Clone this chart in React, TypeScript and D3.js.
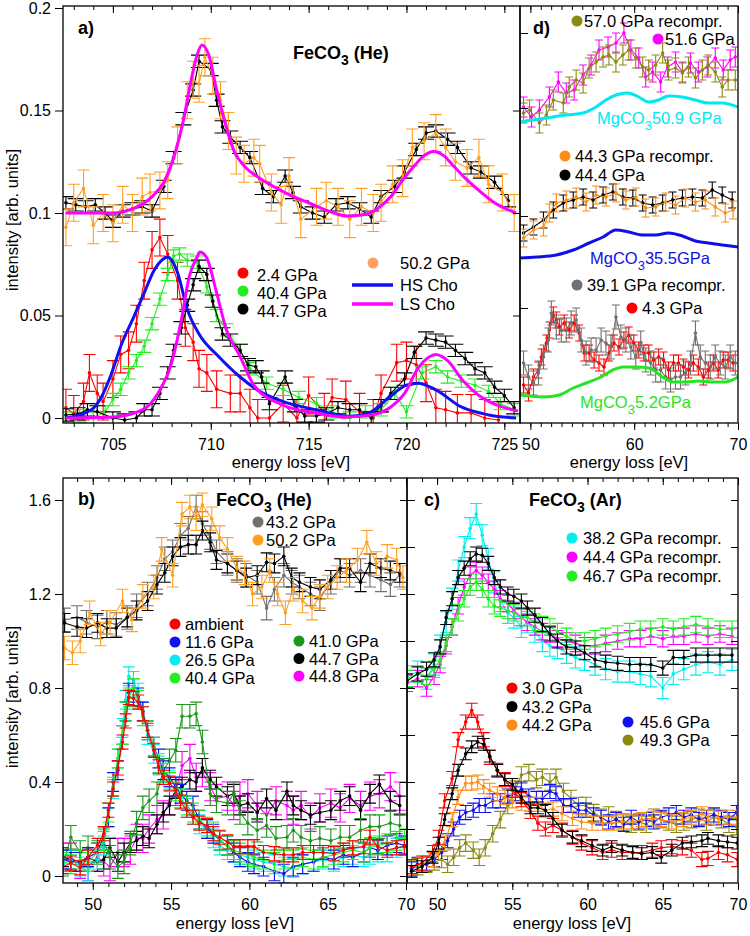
import React, { useEffect, useRef } from 'react'
import * as d3 from 'd3'

type Pt = [number, number]

const FONT = 'Liberation Sans, Arial, Helvetica, sans-serif'

// ---------- a) FeCO3 (He), Fe L edge  [energy loss eV, intensity]
const aBlackTop: Pt[] = [[702.6,0.105],[703.1,0.104],[703.6,0.103],[704.1,0.104],[704.6,0.1],[705.0,0.096],[705.5,0.101],[706.0,0.102],[706.5,0.103],[707.0,0.101],[707.6,0.113],[708.1,0.127],[708.6,0.146],[709.1,0.16],[709.4,0.174],[710.0,0.17],[710.3,0.155],[710.6,0.142],[711.0,0.137],[711.5,0.132],[712.0,0.127],[712.65,0.112],[713.2,0.108],[713.8,0.118],[714.2,0.11],[714.6,0.103],[715.2,0.1],[715.8,0.098],[716.4,0.104],[717.0,0.105],[717.6,0.102],[718.2,0.098],[718.7,0.108],[719.4,0.113],[719.9,0.12],[720.5,0.131],[721.0,0.139],[721.5,0.14],[722.1,0.136],[722.6,0.132],[723.3,0.122],[723.8,0.12],[724.5,0.115],[725.2,0.106]]
const aOrangeTop: Pt[] = [[702.6,0.093],[703.0,0.105],[703.5,0.112],[704.0,0.094],[704.5,0.1],[705.0,0.095],[705.5,0.104],[706.0,0.1],[706.5,0.108],[706.9,0.11],[707.4,0.111],[707.8,0.116],[708.3,0.133],[708.8,0.155],[709.1,0.165],[709.4,0.163],[709.7,0.176],[710.1,0.167],[710.5,0.155],[710.9,0.14],[711.3,0.128],[711.7,0.124],[712.2,0.127],[712.5,0.124],[713.1,0.11],[713.6,0.104],[714.0,0.118],[714.6,0.097],[715.4,0.103],[715.9,0.106],[716.5,0.103],[717.1,0.097],[717.7,0.103],[718.3,0.1],[718.7,0.105],[719.3,0.114],[719.8,0.117],[720.3,0.132],[720.9,0.135],[721.5,0.139],[722.0,0.132],[722.5,0.125],[723.1,0.122],[723.7,0.127],[724.2,0.114],[724.9,0.11],[725.5,0.1]]
const aLsTop: Pt[] = [[702.6,0.1],[704,0.1],[705,0.1],[706,0.102],[707,0.108],[707.6,0.115],[708.2,0.13],[708.6,0.145],[709,0.165],[709.3,0.177],[709.55,0.182],[709.9,0.177],[710.3,0.16],[710.7,0.145],[711.2,0.13],[711.7,0.123],[712.5,0.117],[713,0.114],[714,0.109],[715,0.105],[716,0.101],[717,0.0985],[717.7,0.099],[718.5,0.102],[719.2,0.108],[719.8,0.116],[720.4,0.123],[720.9,0.128],[721.4,0.13],[721.9,0.128],[722.4,0.123],[723,0.117],[723.7,0.111],[724.5,0.105],[725.6,0.1]]
const aRed: Pt[] = [[702.6,0.005],[703.0,0.002],[703.5,0.008],[703.8,0.022],[704.2,0.012],[704.5,0.008],[705.0,0.019],[705.4,0.031],[705.8,0.033],[706.2,0.046],[706.6,0.067],[707.0,0.082],[707.4,0.088],[707.8,0.08],[708.3,0.067],[708.7,0.044],[709.1,0.037],[709.4,0.024],[709.8,0.022],[710.3,0.014],[711.0,0.012],[711.5,0.012],[712.0,0.005],[712.4,0.0],[713.0,0.0],[713.7,0.007],[714.4,0.0],[715.0,0.011],[715.8,0.003],[716.2,0.01],[716.9,0.009],[717.6,0.003],[718.3,0.0],[718.7,0.012],[719.5,0.027],[720.0,0.028],[720.5,0.026],[721.0,0.017],[721.5,0.005],[722.0,0.004],[722.6,0.0025],[723.3,0.0025],[724.0,0.0],[724.7,-0.001]]
const aGreen: Pt[] = [[702.6,0.0],[703.3,0.001],[704.0,0.0],[704.6,0.003],[705.0,0.009],[705.4,0.014],[705.8,0.022],[706.2,0.028],[706.6,0.035],[707.0,0.046],[707.4,0.058],[707.8,0.07],[708.1,0.079],[708.4,0.08],[708.8,0.077],[709.3,0.076],[709.8,0.064],[710.3,0.05],[710.8,0.043],[711.5,0.033],[712.0,0.024],[712.85,0.017],[713.7,0.014],[714.5,0.01],[715.4,0.007],[716.2,0.003],[717.1,0.0],[717.9,0.003],[718.7,0.004],[719.4,0.012],[720.0,0.003],[720.8,0.022],[721.5,0.025],[722.1,0.02],[722.8,0.018],[723.5,0.016],[724.2,0.013],[724.8,0.007],[725.5,0.004]]
const aBlack: Pt[] = [[702.6,0.0015],[703.2,0.002],[703.7,0.004],[704.2,0.003],[705.0,0.0],[705.6,-0.001],[706.2,0.0],[706.6,0.004],[707.0,0.004],[707.4,0.012],[707.8,0.022],[708.1,0.033],[708.5,0.044],[708.8,0.055],[709.1,0.065],[709.4,0.074],[709.8,0.07],[710.1,0.057],[710.6,0.041],[711.0,0.038],[711.5,0.033],[711.9,0.026],[712.3,0.025],[712.6,0.02],[713.0,0.007],[713.8,0.02],[714.3,0.006],[714.8,0.001],[715.4,0.001],[715.9,0.002],[716.5,0.005],[717.1,0.004],[717.6,0.004],[718.2,0.0],[718.7,0.006],[719.2,0.012],[719.9,0.019],[720.4,0.032],[721.0,0.039],[721.5,0.038],[722.0,0.037],[722.5,0.033],[723.0,0.029],[723.5,0.024],[724.0,0.022],[724.5,0.015],[725.0,0.011],[725.5,0.005]]
const aHsCho: Pt[] = [[702.6,0.0],[703.9,0.004],[704.4,0.01],[704.9,0.021],[705.4,0.035],[706.05,0.049],[706.6,0.061],[707.1,0.072],[707.5,0.077],[707.8,0.0785],[708.3,0.071],[708.8,0.053],[709.4,0.041],[710.4,0.03],[711.5,0.02],[712.5,0.013],[713.7,0.008],[715.4,0.004],[717.1,0.0008],[718.1,0.0025],[719.1,0.01],[720,0.016],[720.6,0.017],[721.5,0.0137],[722.8,0.0054],[724.2,0.0015],[725.6,0.0]]
const aLsCho: Pt[] = [[702.6,0.0],[705,0.0005],[706.5,0.004],[707.3,0.012],[708,0.027],[708.5,0.048],[708.9,0.069],[709.3,0.0785],[709.45,0.081],[709.8,0.078],[710.3,0.061],[710.8,0.043],[711.5,0.03],[712.2,0.016],[713.7,0.0063],[715.4,0.0024],[716.9,0.0005],[718.2,0.0015],[719.2,0.0054],[719.9,0.012],[720.6,0.0244],[721.2,0.03],[721.5,0.031],[722.1,0.028],[722.9,0.018],[723.7,0.011],[724.7,0.006],[725.7,0.0034]]

// ---------- d) C K edge, stacked [energy loss eV, intensity]
const dOlive: Pt[] = [[49.34,3.1],[49.92,3.13],[50.87,3.0],[51.54,3.08],[52.21,3.23],[53.17,3.2],[53.74,3.36],[54.41,3.43],[55.08,3.4],[55.66,3.55],[56.33,3.61],[57.0,3.66],[57.57,3.68],[58.24,3.61],[58.91,3.68],[59.48,3.73],[60.15,3.65],[60.82,3.56],[61.4,3.53],[62.07,3.58],[62.74,3.7],[63.31,3.53],[63.98,3.55],[64.65,3.5],[65.23,3.56],[65.9,3.45],[66.57,3.53],[67.14,3.58],[67.81,3.51],[68.48,3.36],[69.05,3.43],[69.74,3.43]]
const dMagenta: Pt[] = [[49.34,3.16],[50.11,3.06],[50.87,3.13],[51.83,3.26],[52.69,3.41],[53.46,3.3],[54.22,3.33],[55.08,3.48],[55.85,3.58],[56.61,3.73],[57.48,3.76],[58.24,3.8],[59.01,3.9],[59.68,3.73],[60.44,3.65],[61.11,3.46],[61.78,3.51],[62.55,3.41],[63.22,3.56],[63.98,3.61],[64.65,3.51],[65.42,3.6],[66.18,3.51],[67.04,3.56],[67.81,3.65],[68.58,3.53],[69.25,3.63],[69.74,3.66]]
const dMg509: Pt[] = [[49.0,3.01],[51.54,3.05],[53.46,3.08],[55.08,3.1],[56.33,3.16],[57.28,3.23],[58.24,3.28],[59.39,3.3],[60.44,3.26],[61.4,3.21],[62.36,3.23],[63.31,3.27],[64.65,3.26],[65.9,3.23],[67.14,3.2],[68.48,3.2],[70,3.16]]
const dOrange: Pt[] = [[49.34,1.85],[50.3,1.93],[51.26,1.96],[51.83,2.1],[52.5,2.2],[53.46,2.23],[54.41,2.26],[55.37,2.21],[56.33,2.28],[57.28,2.26],[58.24,2.3],[59.2,2.23],[60.15,2.26],[61.11,2.15],[62.07,2.16],[63.03,2.21],[63.98,2.18],[64.94,2.25],[65.9,2.21],[66.85,2.23],[67.81,2.16],[68.77,2.1],[69.53,2.13]]
const dBlack: Pt[] = [[49.34,1.9],[50.3,1.96],[51.26,2.03],[52.21,2.13],[53.17,2.2],[54.13,2.23],[55.08,2.26],[56.04,2.23],[57.0,2.28],[57.95,2.31],[58.91,2.26],[59.87,2.25],[60.82,2.2],[61.78,2.18],[62.74,2.2],[63.7,2.23],[64.65,2.25],[65.61,2.26],[66.57,2.25],[67.52,2.33],[68.48,2.28],[69.44,2.23]]
const dMg355: Pt[] = [[49.0,1.65],[50.59,1.66],[52.5,1.68],[54.13,1.73],[55.66,1.8],[57.0,1.86],[58.24,1.93],[59.48,1.91],[60.82,1.88],[62.07,1.88],[63.31,1.9],[64.65,1.87],[65.9,1.82],[67.14,1.8],[68.48,1.78],[70,1.76]]
const dRed: Pt[] = [[49.34,0.38],[49.82,0.3],[50.3,0.46],[50.78,0.53],[51.06,0.66],[51.54,0.8],[51.83,0.93],[52.21,1.08],[52.5,1.03],[52.79,0.96],[53.26,1.0],[53.74,0.93],[54.22,1.0],[54.7,0.9],[55.18,0.7],[55.66,0.7],[56.14,0.63],[56.61,0.6],[57.09,0.56],[57.57,0.7],[58.05,0.8],[58.53,0.76],[59.01,0.83],[59.48,0.88],[59.96,0.8],[60.44,0.73],[60.92,0.7],[61.4,0.7],[61.88,0.63],[62.36,0.66],[62.83,0.63],[63.31,0.53],[63.79,0.6],[64.27,0.6],[64.75,0.56],[65.23,0.53],[65.7,0.6],[66.18,0.56],[66.66,0.46],[67.14,0.53],[67.62,0.6],[68.1,0.53],[68.58,0.63],[69.05,0.63],[69.53,0.6]]
const dGray: Pt[] = [[49.34,0.6],[49.82,0.46],[50.3,0.4],[50.78,0.5],[51.26,0.66],[51.73,0.83],[52.02,1.1],[52.5,0.96],[52.98,0.93],[53.46,0.93],[53.93,1.0],[54.41,1.03],[54.89,0.83],[55.37,0.7],[55.85,0.73],[56.33,0.73],[56.81,0.83],[57.28,0.8],[57.76,0.76],[58.24,1.06],[58.72,0.86],[59.2,0.83],[59.68,0.76],[60.15,0.66],[60.63,0.8],[61.11,0.63],[61.59,0.6],[62.07,0.53],[62.55,0.53],[63.03,0.46],[63.5,0.43],[63.98,0.46],[64.46,0.46],[64.94,0.5],[65.42,0.6],[65.9,0.9],[66.37,0.66],[66.85,0.6],[67.33,0.56],[67.81,0.66],[68.29,0.6],[68.77,0.56],[69.25,0.66],[69.74,0.6]]
const dMg52: Pt[] = [[49.0,0.28],[51.26,0.26],[52.79,0.28],[54.13,0.35],[55.37,0.4],[56.61,0.45],[57.95,0.53],[58.91,0.56],[60.15,0.56],[61.4,0.55],[62.74,0.46],[63.7,0.41],[64.94,0.41],[66.18,0.42],[67.52,0.41],[68.77,0.41],[70,0.46]]

// ---------- b) FeCO3 (He), C K edge
const bGridA = [48.1,48.6,49.2,49.7,50.3,50.7,51.0,51.3,51.6,51.9,52.1,52.3,52.6,52.9,53.2,53.5,53.9,54.2,54.5,54.9,55.3,55.6,56.0,56.4,56.8,57.3,57.7,58.1,58.6,59.0,59.4,59.9,60.3,60.9,61.6,62.2,62.8,63.4,64.1,64.7,65.4,66.0,66.6,67.3,67.7,68.2,68.8,69.4,69.9]
const bAmbient = [0.04,0.055,0.035,0.08,0.13,0.18,0.28,0.37,0.46,0.57,0.66,0.76,0.755,0.74,0.69,0.62,0.535,0.465,0.42,0.395,0.365,0.315,0.28,0.25,0.225,0.215,0.18,0.165,0.145,0.125,0.125,0.125,0.125,0.1,0.095,0.09,0.09,0.1,0.1,0.1,0.095,0.11,0.12,0.125,0.165,0.125,0.11,0.12,0.125]
const b116 = [0.07,0.06,0.06,0.08,0.1,0.17,0.25,0.4,0.45,0.6,0.7,0.78,0.8,0.76,0.7,0.62,0.55,0.5,0.45,0.42,0.38,0.35,0.32,0.3,0.24,0.2,0.18,0.15,0.13,0.1,0.08,0.06,0.05,0.04,0.02,0.01,0.04,0.05,0.06,0.08,0.07,0.09,0.08,0.1,0.12,0.11,0.13,0.14,0.13]
const b265 = [0.05,0.07,0.04,0.02,0.07,0.13,0.25,0.37,0.5,0.63,0.75,0.85,0.83,0.78,0.7,0.6,0.52,0.47,0.44,0.41,0.38,0.33,0.29,0.26,0.22,0.2,0.16,0.13,0.11,0.1,0.09,0.08,0.07,0.06,0.05,0.04,0.035,0.05,0.06,0.07,0.06,0.08,0.09,0.08,0.09,0.1,0.1,0.12,0.13]
const b404 = [0.06,0.05,0.07,0.06,0.1,0.15,0.27,0.38,0.5,0.6,0.7,0.76,0.8,0.75,0.68,0.62,0.55,0.48,0.44,0.4,0.36,0.33,0.3,0.27,0.24,0.21,0.19,0.15,0.13,0.11,0.1,0.09,0.08,0.07,0.06,0.07,0.07,0.08,0.07,0.08,0.09,0.1,0.11,0.1,0.12,0.13,0.14,0.15,0.16]
const bGridB = [48.1,48.6,49.2,49.7,50.3,50.7,51.1,51.6,52.0,52.4,52.8,53.2,53.6,54.1,54.5,54.9,55.3,55.7,56.2,56.6,57.0,57.5,57.9,58.6,59.0,59.4,59.9,60.5,61.1,61.7,62.4,62.8,63.3,63.9,64.5,65.2,65.8,66.4,67.1,67.7,68.3,69.0,69.6]
const b410 = [0.05,0.165,0.1,0.12,0.1,0.15,0.08,0.04,0.06,0.14,0.225,0.29,0.32,0.35,0.45,0.49,0.535,0.68,0.68,0.69,0.57,0.35,0.32,0.31,0.35,0.27,0.225,0.195,0.215,0.16,0.165,0.195,0.165,0.15,0.16,0.15,0.165,0.165,0.195,0.21,0.21,0.225,0.215]
const b447 = [0.08,0.07,0.06,0.08,0.06,0.07,0.12,0.06,0.1,0.14,0.15,0.17,0.16,0.22,0.27,0.3,0.37,0.38,0.41,0.4,0.46,0.41,0.38,0.34,0.35,0.3,0.31,0.27,0.33,0.28,0.36,0.3,0.28,0.26,0.27,0.28,0.32,0.34,0.28,0.35,0.39,0.32,0.3]
const b448 = [0.08,0.08,0.05,0.04,0.08,0.06,0.04,0.1,0.1,0.11,0.16,0.16,0.2,0.24,0.26,0.32,0.36,0.47,0.5,0.42,0.44,0.38,0.33,0.34,0.3,0.34,0.35,0.3,0.26,0.32,0.3,0.28,0.3,0.25,0.29,0.31,0.29,0.33,0.3,0.34,0.35,0.38,0.34]
const bGridC = [48.2,49.0,49.6,50.3,50.9,51.5,52.2,52.8,53.5,54.1,54.6,55.1,55.6,56.1,56.6,57.0,57.5,57.9,58.6,59.2,59.8,60.5,61.1,61.6,62.2,62.7,63.2,63.9,64.5,65.2,65.8,66.4,67.1,67.7,68.4,69.0,69.6]
const b447Top = [1.077,1.06,1.055,1.077,1.055,1.055,1.1,1.13,1.17,1.24,1.29,1.36,1.4,1.41,1.41,1.47,1.42,1.345,1.33,1.3,1.27,1.28,1.335,1.33,1.36,1.27,1.25,1.23,1.22,1.26,1.31,1.31,1.25,1.33,1.31,1.3,1.29]
const b432 = [1.09,1.1,1.08,1.06,1.08,1.07,1.1,1.15,1.2,1.27,1.35,1.38,1.45,1.48,1.57,1.5,1.44,1.38,1.33,1.3,1.28,1.25,1.14,1.22,1.28,1.25,1.23,1.2,1.18,1.25,1.3,1.28,1.3,1.28,1.26,1.24,1.28]
const bGridD = [48.2,48.7,49.2,49.8,50.5,51.1,51.9,52.5,53.2,53.9,54.4,55.1,55.7,56.2,56.6,57.0,57.6,58.1,58.6,59.2,59.7,60.2,60.8,61.3,61.8,62.3,62.8,63.4,64.0,64.5,65.0,65.6,66.2,66.9,67.5,68.1,68.8,69.4,69.8]
const b502 = [0.97,0.95,1.0,1.12,1.03,1.08,1.17,1.09,1.19,1.23,1.39,1.28,1.54,1.57,1.52,1.58,1.52,1.44,1.39,1.31,1.29,1.2,1.23,1.3,1.2,1.12,1.22,1.17,1.14,1.19,1.23,1.27,1.3,1.345,1.42,1.33,1.36,1.345,1.27]

// ---------- c) FeCO3 (Ar), C K edge
const cGridA = [48.0,48.7,49.3,49.8,50.2,50.6,51.0,51.4,51.8,52.2,52.6,53.0,53.4,53.8,54.2,54.7,55.1,55.6,56.0,56.5,57.0,57.5,58.0,58.6,59.2,59.8,60.5,61.2,62.0,62.8,63.5,64.2,65.0,65.7,66.4,67.2,68.0,68.8,69.6]
const c382r = [0.85,0.87,0.84,0.9,0.98,1.08,1.18,1.3,1.4,1.48,1.54,1.45,1.35,1.25,1.17,1.12,1.1,1.06,1.08,1.04,1.0,0.98,0.97,0.95,0.93,0.92,0.9,0.88,0.87,0.87,0.86,0.85,0.8,0.86,0.88,0.9,0.91,0.9,0.92]
const c444r = [0.82,0.84,0.8,0.85,0.9,0.98,1.06,1.15,1.23,1.28,1.3,1.28,1.25,1.22,1.18,1.16,1.13,1.1,1.08,1.06,1.04,1.03,1.01,1.0,0.99,0.98,0.98,0.99,1.0,1.01,1.01,1.02,1.01,1.02,1.02,1.03,1.02,1.03,1.02]
const c467r = [0.84,0.86,0.85,0.88,0.92,0.99,1.06,1.12,1.18,1.23,1.25,1.22,1.18,1.15,1.14,1.13,1.12,1.1,1.1,1.08,1.07,1.06,1.04,1.02,1.0,1.0,1.01,1.02,1.03,1.04,1.05,1.05,1.06,1.05,1.06,1.07,1.06,1.05,1.05]
const cBlackTop = [0.83,0.86,0.88,0.92,0.975,1.1,1.18,1.27,1.31,1.35,1.37,1.365,1.33,1.27,1.23,1.2,1.19,1.17,1.14,1.11,1.07,1.03,1.0,0.975,0.97,0.95,0.92,0.91,0.905,0.9,0.9,0.9,0.885,0.93,0.93,0.94,0.94,0.94,0.94]
const cGridB = [48.3,49.0,49.7,50.1,50.5,51.0,51.4,51.9,52.3,52.7,53.1,53.5,54.0,54.5,55.0,55.6,56.2,56.7,57.2,57.7,58.3,59.0,59.6,60.3,61.0,61.6,62.3,63.0,63.6,64.3,64.9,65.6,66.3,66.9,67.6,68.0,68.7,69.3,69.95]
const c30 = [0.04,0.055,0.1,0.165,0.32,0.415,0.58,0.655,0.705,0.655,0.58,0.505,0.45,0.41,0.365,0.325,0.275,0.225,0.2,0.215,0.195,0.165,0.14,0.12,0.1,0.11,0.1,0.1,0.1,0.11,0.12,0.125,0.12,0.11,0.07,0.075,0.1,0.09,0.07]
const c432 = [0.02,0.04,0.08,0.14,0.24,0.35,0.45,0.52,0.55,0.57,0.56,0.51,0.45,0.41,0.39,0.335,0.29,0.29,0.28,0.245,0.195,0.165,0.15,0.13,0.11,0.125,0.11,0.1,0.095,0.1,0.08,0.11,0.14,0.145,0.15,0.16,0.15,0.145,0.14]
const c442 = [0.04,0.05,0.07,0.1,0.14,0.24,0.335,0.395,0.395,0.4,0.38,0.365,0.35,0.335,0.32,0.31,0.305,0.305,0.28,0.285,0.265,0.245,0.23,0.225,0.225,0.225,0.23,0.23,0.24,0.245,0.24,0.23,0.24,0.25,0.265,0.25,0.245,0.25,0.25]
const cGridC = [48.3,48.7,49.3,49.8,50.3,50.7,51.1,51.5,51.9,52.4,52.8,53.2,53.7,54.2,54.7,55.2,55.6,56.1,56.6,57.0,57.5,57.9,58.4,58.9,59.4,59.9,60.4,60.9,61.4,61.9,62.4,62.9,63.4,63.9,64.4,64.9,65.4,65.9,66.4,66.9,67.4,67.9,68.4,68.9,69.4,69.9]
const c456 = [0.03,0.05,0.05,0.07,0.1,0.15,0.2,0.25,0.27,0.28,0.3,0.3,0.32,0.32,0.34,0.35,0.37,0.34,0.33,0.33,0.36,0.35,0.3,0.3,0.28,0.28,0.26,0.25,0.23,0.24,0.22,0.25,0.23,0.24,0.23,0.25,0.26,0.27,0.25,0.26,0.24,0.25,0.26,0.25,0.24,0.27]
const c493 = [0.03,0.04,0.05,0.06,0.07,0.05,0.08,0.12,0.14,0.11,0.08,0.12,0.18,0.24,0.3,0.37,0.43,0.44,0.41,0.42,0.4,0.42,0.36,0.33,0.3,0.3,0.27,0.25,0.26,0.24,0.23,0.22,0.23,0.22,0.25,0.24,0.23,0.22,0.23,0.24,0.25,0.23,0.25,0.24,0.22,0.21]

const zip = (xs: number[], ys: number[]): Pt[] => xs.map((x, i) => [x, ys[i]] as Pt)

const RED = '#ff0000', LIME = '#22ee22', ORANGE = '#ffa020', ORANGE2 = '#ff8c14', MAG = '#ff00ff'
const BLUE = '#1010f0', CYAN = '#00eeee', GRAY = '#707070', OLIVE = '#8a8a12', DKGREEN = '#1e961e'

interface Frame { x0: number; x1: number; y0: number; y1: number }

export default function App() {
  const ref = useRef<SVGSVGElement>(null)

  useEffect(() => {
    document.body.style.margin = '0'
    const svg = d3.select(ref.current)
    svg.selectAll('*').remove()
    svg.append('rect').attr('width', 750).attr('height', 936).attr('fill', '#fff')

    const fA: Frame = { x0: 63, x1: 520, y0: 6, y1: 423 }
    const fD: Frame = { x0: 520, x1: 738, y0: 6, y1: 423 }
    const fB: Frame = { x0: 63, x1: 407, y0: 478, y1: 883 }
    const fC: Frame = { x0: 407, x1: 738, y0: 478, y1: 883 }

    const xA = d3.scaleLinear().domain([702.45, 725.8]).range([fA.x0, fA.x1])
    const yA = d3.scaleLinear().domain([0, 0.2]).range([418, 8])
    const xD = d3.scaleLinear().domain([49.0, 70]).range([fD.x0, fD.x1])
    const yD = d3.scaleLinear().domain([0, 4.17]).range([423, 6])
    const xB = d3.scaleLinear().domain([48.1, 70]).range([63, 406])
    const xC = d3.scaleLinear().domain([48, 70]).range([fC.x0, fC.x1])
    const yB = d3.scaleLinear().domain([0, 1.6]).range([876, 500])

    const clip = (id: string, f: Frame) => {
      svg.append('clipPath').attr('id', id).append('rect')
        .attr('x', f.x0).attr('y', f.y0).attr('width', f.x1 - f.x0).attr('height', f.y1 - f.y0)
      return svg.append('g').attr('clip-path', `url(#${id})`)
    }

    const trace = (g: any, x: any, y: any, pts: Pt[], color: string, err: number, cap: number) => {
      const s = g.append('g').attr('stroke', color).attr('fill', 'none').attr('stroke-width', 1.1)
      s.selectAll(null).data(pts).join('path')
        .attr('d', (d: Pt) => {
          const px = x(d[0]), hi = y(d[1] + err), lo = y(d[1] - err)
          return `M${px},${hi}V${lo}M${px - cap},${hi}h${2 * cap}M${px - cap},${lo}h${2 * cap}`
        })
      s.append('path').attr('d', d3.line<Pt>().x(d => x(d[0])).y(d => y(d[1]))(pts))
      g.append('g').attr('fill', color).selectAll(null).data(pts).join('circle')
        .attr('cx', (d: Pt) => x(d[0])).attr('cy', (d: Pt) => y(d[1])).attr('r', 1.8)
    }
    const smooth = (g: any, x: any, y: any, pts: Pt[], color: string, w: number) => {
      g.append('path').attr('fill', 'none').attr('stroke', color).attr('stroke-width', w)
        .attr('stroke-linejoin', 'round')
        .attr('d', d3.line<Pt>().x(d => x(d[0])).y(d => y(d[1])).curve(d3.curveMonotoneX)(pts))
    }

    // ---- data layers
    const gA = clip('clipA', fA)
    trace(gA, xA, yA, aBlackTop, '#000', 0.003, 8)
    trace(gA, xA, yA, aOrangeTop, ORANGE, 0.009, 6)
    smooth(gA, xA, yA, aLsTop, MAG, 3)
    trace(gA, xA, yA, aRed, RED, 0.009, 6)
    trace(gA, xA, yA, aGreen, LIME, 0.003, 7)
    trace(gA, xA, yA, aBlack, '#000', 0.003, 8)
    smooth(gA, xA, yA, aHsCho, BLUE, 3)
    smooth(gA, xA, yA, aLsCho, MAG, 3)

    const gD = clip('clipD', fD)
    trace(gD, xD, yD, dMagenta, MAG, 0.1, 4)
    trace(gD, xD, yD, dOlive, OLIVE, 0.1, 4)
    smooth(gD, xD, yD, dMg509, '#00e8f0', 3)
    trace(gD, xD, yD, dBlack, '#000', 0.08, 4)
    trace(gD, xD, yD, dOrange, ORANGE2, 0.09, 4)
    smooth(gD, xD, yD, dMg355, '#1010e6', 3)
    trace(gD, xD, yD, dRed, RED, 0.08, 4)
    trace(gD, xD, yD, dGray, GRAY, 0.12, 4)
    smooth(gD, xD, yD, dMg52, '#22e622', 3)

    const gB = clip('clipB', fB)
    trace(gB, xB, yB, zip(bGridC, b432), GRAY, 0.05, 6)
    trace(gB, xB, yB, zip(bGridC, b447Top), '#000', 0.04, 6)
    trace(gB, xB, yB, zip(bGridD, b502), ORANGE, 0.05, 6)
    trace(gB, xB, yB, zip(bGridB, b448), MAG, 0.06, 6)
    trace(gB, xB, yB, zip(bGridB, b447), '#000', 0.04, 6)
    trace(gB, xB, yB, zip(bGridB, b410), DKGREEN, 0.05, 6)
    trace(gB, xB, yB, zip(bGridA, b265), CYAN, 0.04, 6)
    trace(gB, xB, yB, zip(bGridA, b116), BLUE, 0.04, 6)
    trace(gB, xB, yB, zip(bGridA, b404), LIME, 0.04, 6)
    trace(gB, xB, yB, zip(bGridA, bAmbient), RED, 0.03, 6)

    const gC = clip('clipC', fC)
    trace(gC, xC, yB, zip(cGridA, c382r), CYAN, 0.045, 6)
    trace(gC, xC, yB, zip(cGridA, c444r), MAG, 0.035, 6)
    trace(gC, xC, yB, zip(cGridA, c467r), LIME, 0.035, 6)
    trace(gC, xC, yB, zip(cGridA, cBlackTop), '#000', 0.03, 6)
    trace(gC, xC, yB, zip(cGridC, c493), OLIVE, 0.035, 6)
    trace(gC, xC, yB, zip(cGridC, c456), BLUE, 0.03, 6)
    trace(gC, xC, yB, zip(cGridB, c442), ORANGE2, 0.03, 6)
    trace(gC, xC, yB, zip(cGridB, c30), RED, 0.03, 6)
    trace(gC, xC, yB, zip(cGridB, c432), '#000', 0.025, 6)

    // ---- axes and frames
    const axes = svg.append('g')
    const put = (f: Frame, pos: 'b' | 't' | 'l' | 'r', axis: any) => {
      const tr = pos === 'b' ? `translate(0,${f.y1})` : pos === 't' ? `translate(0,${f.y0})`
        : pos === 'l' ? `translate(${f.x0},0)` : `translate(${f.x1},0)`
      axes.append('g').attr('transform', tr).call(axis)
    }
    const none = () => ''
    const xAxes = (f: Frame, x: any, major: number[], minor: number[]) => {
      put(f, 'b', d3.axisBottom(x).tickValues(minor).tickSize(4).tickFormat(none))
      put(f, 'b', d3.axisBottom(x).tickValues(major).tickSize(7).tickPadding(9).tickFormat(d3.format('d')))
      put(f, 't', d3.axisTop(x).tickValues(minor).tickSize(-4).tickFormat(none))
      put(f, 't', d3.axisTop(x).tickValues(major).tickSize(-7).tickFormat(none))
    }
    xAxes(fA, xA, [705, 710, 715, 720, 725], d3.range(703, 726))
    xAxes(fD, xD, [50, 60, 70], d3.range(50, 71))
    xAxes(fB, xB, [50, 55, 60, 65, 70], d3.range(49, 71))
    xAxes(fC, xC, [50, 55, 60, 65, 70], d3.range(49, 71))

    put(fA, 'l', d3.axisLeft(yA).tickValues([0, 0.05, 0.1, 0.15, 0.2]).tickSize(8).tickPadding(4).tickFormat(d3.format('~g')))
    put(fA, 'r', d3.axisRight(yA).tickValues([0.05, 0.1, 0.15]).tickSize(-7).tickFormat(none))
    put(fD, 'l', d3.axisLeft(yD).tickValues([1.15, 2.07, 3.15, 3.9]).tickSize(-8).tickFormat(none))
    put(fB, 'l', d3.axisLeft(yB).tickValues([0, 0.4, 0.8, 1.2, 1.6]).tickSize(8).tickPadding(4).tickFormat(d3.format('~g')))
    put(fB, 'r', d3.axisRight(yB).tickValues(d3.range(0, 1.7, 0.2)).tickSize(-7).tickFormat(none))
    put(fC, 'l', d3.axisLeft(yB).tickValues(d3.range(0.2, 1.7, 0.2)).tickSize(-8).tickFormat(none))
    put(fC, 'r', d3.axisRight(yB).tickValues(d3.range(0.2, 1.7, 0.2)).tickSize(-7).tickFormat(none))

    axes.selectAll('.domain').remove()
    axes.selectAll('.tick line').attr('stroke', '#000').attr('stroke-width', 1)
    axes.selectAll('g').attr('font-size', null).attr('font-family', null)
    axes.selectAll('text').attr('font-size', 16).attr('font-family', FONT).attr('fill', '#000')

    ;[fA, fD, fB, fC].forEach(f => {
      svg.append('rect').attr('x', f.x0).attr('y', f.y0).attr('width', f.x1 - f.x0).attr('height', f.y1 - f.y0)
        .attr('fill', 'none').attr('stroke', '#000').attr('stroke-width', 1.3)
    })

    // ---- text
    const txt = svg.append('g').attr('font-family', FONT).attr('font-size', 16.5).attr('fill', '#000')
    const label = (x: number, y: number, s: string, opts: any = {}) =>
      txt.append('text').attr('x', x).attr('y', y).attr('fill', opts.color || '#000')
        .attr('font-weight', opts.bold ? 'bold' : null).attr('font-size', opts.size || null)
        .attr('text-anchor', opts.anchor || null).text(s)
    const chem = (x: number, y: number, pre: string, post: string, color: string, bold: boolean) => {
      const t = txt.append('text').attr('x', x).attr('y', y).attr('fill', color)
        .attr('font-weight', bold ? 'bold' : null).attr('font-size', bold ? 18 : 16.5)
      t.append('tspan').text(pre)
      t.append('tspan').text('3').attr('font-size', bold ? 14 : 13).attr('dy', 6)
      t.append('tspan').text(post).attr('dy', -6)
    }
    const dot = (x: number, y: number, color: string) =>
      txt.append('circle').attr('cx', x).attr('cy', y).attr('r', 5.5).attr('fill', color)

    label(78, 34, 'a)', { bold: true, size: 18 })
    chem(293, 59, 'FeCO', ' (He)', '#000', true)
    label(533, 34, 'd)', { bold: true, size: 18 })
    label(78, 505, 'b)', { bold: true, size: 18 })
    chem(216, 506, 'FeCO', ' (He)', '#000', true)
    label(424, 506, 'c)', { bold: true, size: 18 })
    chem(529, 506, 'FeCO', ' (Ar)', '#000', true)

    // legend a)
    const aLegend: [string, string][] = [['2.4 GPa', RED], ['40.4 GPa', LIME], ['44.7 GPa', '#000']]
    aLegend.forEach(([s, c], i) => { dot(243, 273 + i * 18, c); label(257, 281 + i * 18, s) })
    dot(373, 263, '#ffa060'); label(400, 269, '50.2 GPa')
    txt.append('line').attr('x1', 352).attr('x2', 393).attr('y1', 285).attr('y2', 285).attr('stroke', BLUE).attr('stroke-width', 3.5)
    label(400, 291, 'HS Cho')
    txt.append('line').attr('x1', 352).attr('x2', 393).attr('y1', 304).attr('y2', 304).attr('stroke', MAG).attr('stroke-width', 3.5)
    label(400, 310, 'LS Cho')

    // legend d)
    dot(577, 21, OLIVE); label(584, 27, '57.0 GPa recompr.')
    dot(658, 39, MAG); label(665, 45, '51.6 GPa')
    chem(597, 124, 'MgCO', '50.9 GPa', '#00e8f0', false)
    dot(565, 156, ORANGE2); label(575, 162, '44.3 GPa recompr.')
    dot(565, 175, '#000'); label(575, 181, '44.4 GPa')
    chem(590, 264, 'MgCO', '35.5GPa', '#1010e6', false)
    dot(577, 285, GRAY); label(587, 291, '39.1 GPa recompr.')
    dot(632, 308, RED); label(642, 314, '4.3 GPa')
    chem(580, 408, 'MgCO', '5.2GPa', '#22e622', false)

    // legend b)
    dot(258, 522, GRAY); label(266, 528, '43.2 GPa')
    dot(258, 540, ORANGE); label(266, 546, '50.2 GPa')
    const bLeft: [string, string][] = [['ambient', RED], ['11.6 GPa', BLUE], ['26.5 GPa', CYAN], ['40.4 GPa', LIME]]
    bLeft.forEach(([s, c], i) => { dot(175, 624 + i * 18, c); label(185, 630 + i * 18, s) })
    const bRight: [string, string][] = [['41.0 GPa', DKGREEN], ['44.7 GPa', '#000'], ['44.8 GPa', MAG]]
    bRight.forEach(([s, c], i) => { dot(299, 641 + i * 17.5, c); label(309, 647 + i * 17.5, s) })

    // legend c)
    const cTop: [string, string][] = [['38.2 GPa recompr.', CYAN], ['44.4 GPa recompr.', MAG], ['46.7 GPa recompr.', LIME]]
    cTop.forEach(([s, c], i) => { dot(572, 538 + i * 19, c); label(583, 544 + i * 19, s) })
    const cLeft: [string, string][] = [['3.0 GPa', RED], ['43.2 GPa', '#000'], ['44.2 GPa', ORANGE2]]
    cLeft.forEach(([s, c], i) => { dot(512, 688 + i * 18.5, c); label(522, 694 + i * 18.5, s) })
    const cRight: [string, string][] = [['45.6 GPa', BLUE], ['49.3 GPa', OLIVE]]
    cRight.forEach(([s, c], i) => { dot(628, 722 + i * 18, c); label(640, 728 + i * 18, s) })

    // axis titles
    const titles = svg.append('g').attr('font-family', FONT).attr('font-size', 16.5).attr('text-anchor', 'middle')
    titles.append('text').attr('x', 291).attr('y', 468).text('energy loss [eV]')
    titles.append('text').attr('x', 629).attr('y', 468).text('energy loss [eV]')
    titles.append('text').attr('x', 235).attr('y', 929).text('energy loss [eV]')
    titles.append('text').attr('x', 572).attr('y', 929).text('energy loss [eV]')
    titles.append('text').attr('transform', 'translate(18,220) rotate(-90)').text('intensity [arb. units]')
    titles.append('text').attr('transform', 'translate(18,697) rotate(-90)').text('intensity [arb. units]')
  }, [])

  return <svg ref={ref} width={750} height={936} style={{ display: 'block' }} />
}
